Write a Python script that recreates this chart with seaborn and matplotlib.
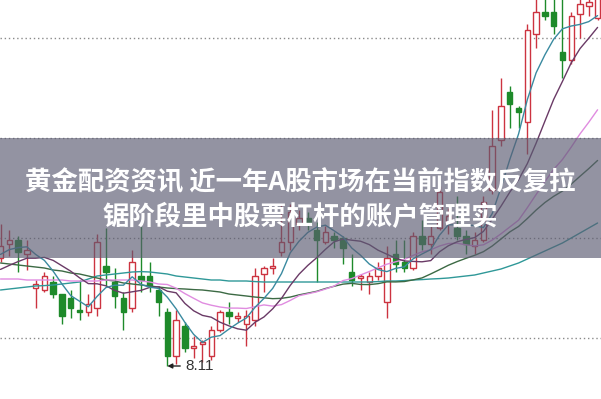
import numpy as np
import pandas as pd
import matplotlib
matplotlib.use("Agg")
import matplotlib.pyplot as plt
import seaborn as sns
from matplotlib.patches import Rectangle

# ---------------- data ----------------
opens = [8.65, 8.72, 8.74, 8.67, 8.50, 8.49, 8.53, 8.47, 8.45, 8.39,
         8.38, 8.40, 8.61, 8.53, 8.45, 8.40, 8.56, 8.56, 8.49, 8.38,
         8.16, 8.31, 8.20, 8.22, 8.16, 8.29, 8.38, 8.35, 8.32, 8.34,
         8.57, 8.60, 8.68, 8.73, 8.82, 8.85, 8.79, 8.73, 8.76, 8.75,
         8.58, 8.55, 8.53, 8.56, 8.43, 8.67, 8.63, 8.60, 8.76, 8.72,
         8.80, 8.83, 8.80, 8.76, 8.71, 8.74, 8.99, 9.24, 9.48, 9.40,
         9.33, 9.77, 9.88, 9.88, 9.68, 9.64, 9.87, 9.91, 9.85]
highs = [8.82, 8.79, 8.76, 8.74, 8.54, 8.58, 8.56, 8.47, 8.49, 8.54,
         8.47, 8.77, 8.80, 8.60, 8.48, 8.69, 8.81, 8.63, 8.51, 8.40,
         8.39, 8.33, 8.26, 8.24, 8.31, 8.39, 8.43, 8.38, 8.39, 8.60,
         8.61, 8.65, 8.92, 8.92, 8.89, 8.88, 8.83, 8.81, 8.78, 8.76,
         8.67, 8.57, 8.58, 8.63, 8.71, 8.74, 8.74, 8.78, 8.84, 8.81,
         9.01, 8.90, 8.96, 8.79, 8.78, 8.96, 9.39, 9.55, 9.51, 9.41,
         9.82, 9.97, 9.97, 9.97, 9.99, 9.88, 9.97, 9.95, 9.99]
lows = [8.63, 8.66, 8.58, 8.59, 8.40, 8.48, 8.45, 8.32, 8.35, 8.34,
        8.36, 8.36, 8.51, 8.40, 8.29, 8.38, 8.48, 8.48, 8.36, 8.11,
        8.12, 8.18, 8.15, 8.13, 8.14, 8.28, 8.32, 8.33, 8.21, 8.31,
        8.48, 8.57, 8.66, 8.69, 8.79, 8.79, 8.53, 8.72, 8.70, 8.62,
        8.51, 8.49, 8.47, 8.54, 8.35, 8.58, 8.58, 8.59, 8.69, 8.67,
        8.79, 8.77, 8.74, 8.67, 8.67, 8.73, 8.97, 9.21, 9.30, 9.30,
        9.17, 9.70, 9.84, 9.77, 9.55, 9.62, 9.75, 9.86, 9.84]
closes = [8.71, 8.74, 8.68, 8.69, 8.52, 8.56, 8.47, 8.36, 8.40, 8.38,
          8.42, 8.73, 8.58, 8.46, 8.38, 8.63, 8.54, 8.51, 8.43, 8.16,
          8.34, 8.20, 8.21, 8.23, 8.29, 8.38, 8.36, 8.36, 8.36, 8.56,
          8.60, 8.61, 8.73, 8.88, 8.85, 8.82, 8.74, 8.78, 8.74, 8.70,
          8.54, 8.56, 8.56, 8.60, 8.65, 8.62, 8.60, 8.76, 8.72, 8.76,
          8.98, 8.86, 8.76, 8.72, 8.74, 8.93, 9.21, 9.41, 9.42, 9.38,
          9.79, 9.88, 9.86, 9.81, 9.64, 9.86, 9.92, 9.93, 9.96]
# closes before the visible window (for the short averages)
prior_closes = [8.54, 8.49, 8.52, 8.52, 8.52, 8.62, 8.63, 8.67, 8.71]
# early parts of the long averages (visible, before a full window exists)
ma20_early = [8.545, 8.545, 8.545, 8.54, 8.54, 8.54, 8.54, 8.54, 8.535, 8.535,
              8.535, 8.535, 8.54, 8.54, 8.54, 8.54, 8.535, 8.53, 8.52]
ma30_early = [8.625, 8.62, 8.615, 8.61, 8.605, 8.60, 8.59, 8.585, 8.575, 8.57,
              8.56, 8.55, 8.54, 8.535, 8.525, 8.52, 8.515, 8.51, 8.505, 8.50,
              8.497, 8.495, 8.492, 8.49, 8.485, 8.48, 8.47, 8.465, 8.46]
ma60 = [8.49, 8.495, 8.50, 8.505, 8.51, 8.512, 8.515, 8.52, 8.525, 8.53,
        8.545, 8.56, 8.565, 8.57, 8.575, 8.58, 8.582, 8.58, 8.575, 8.57,
        8.56, 8.555, 8.55, 8.545, 8.54, 8.54, 8.535, 8.535, 8.535, 8.532,
        8.53, 8.53, 8.53, 8.53, 8.53, 8.53, 8.53, 8.53, 8.53, 8.53,
        8.53, 8.53, 8.53, 8.532, 8.535, 8.535, 8.537, 8.54, 8.542, 8.545,
        8.547, 8.55, 8.555, 8.56, 8.565, 8.575, 8.585, 8.595, 8.61, 8.625,
        8.645, 8.665, 8.685, 8.705, 8.725, 8.75, 8.775, 8.80, 8.825]
grid_levels = [8.25, 8.75, 9.25, 9.75]
low_label = "8.11"
low_index = 19
title_lines = ["黄金配资资讯 近一年A股市场在当前指数反复拉",
               "锯阶段里中股票杠杆的账户管理实"]

# ---------------- derived series ----------------
n = len(closes)
idx = np.arange(n)
allc = pd.Series(prior_closes + closes)
ma5 = allc.rolling(5).mean().to_numpy()[len(prior_closes):]
ma10 = allc.rolling(10).mean().to_numpy()[len(prior_closes):]
cs = pd.Series(closes)
ma20 = np.concatenate([ma20_early, cs.rolling(20).mean().to_numpy()[len(ma20_early):]])
ma30 = np.concatenate([ma30_early, cs.rolling(30).mean().to_numpy()[len(ma30_early):]])

df = pd.DataFrame({"i": idx, "open": opens, "high": highs, "low": lows, "close": closes})
ma_df = pd.concat([
    pd.DataFrame({"i": idx, "v": ma60, "k": "MA60"}),
    pd.DataFrame({"i": idx, "v": ma30, "k": "MA30"}),
    pd.DataFrame({"i": idx, "v": ma20, "k": "MA20"}),
    pd.DataFrame({"i": idx, "v": ma10, "k": "MA10"}),
    pd.DataFrame({"i": idx, "v": ma5, "k": "MA5"}),
])

# ---------------- drawing ----------------
sns.set_theme(style="white")
plt.rcParams['font.family'] = ['Noto Sans CJK SC', 'DejaVu Sans']

fig = plt.figure(figsize=(6.01, 3.99), dpi=100)
ax = fig.add_axes([0, 0, 1, 1])
ax.set_xlim(-0.057, 68.39)
ax.set_ylim(7.945, 9.94)
ax.set_axis_off()

for g in grid_levels:
    ax.axhline(g, color="#8a8a8a", lw=1.0, ls=(0, (1, 2)), zorder=1)

RED = "#cc3340"
GREEN = "#1e8a2a"
w = 0.62
for _, r in df.iterrows():
    col = RED if r["close"] >= r["open"] else GREEN
    top = max(r["open"], r["close"])
    bot = min(r["open"], r["close"])
    ax.vlines(r["i"], r["low"], bot, color=col, lw=1.0, zorder=3)
    ax.vlines(r["i"], top, r["high"], color=col, lw=1.0, zorder=3)
    h = max(top - bot, 0.004)
    face = "white" if r["close"] >= r["open"] else col
    ax.add_patch(Rectangle((r["i"] - w / 2, bot), w, h, facecolor=face,
                           edgecolor=col, lw=1.0, zorder=4))

palette = {"MA5": "#3a8aa0", "MA10": "#6a3a66", "MA20": "#e08ce0",
           "MA30": "#3c6a44", "MA60": "#2f9898"}
sns.lineplot(data=ma_df, x="i", y="v", hue="k", palette=palette, lw=1.0,
             legend=False, ax=ax, zorder=5)

ax.annotate(low_label, xy=(low_index, lows[low_index]),
            xytext=(low_index + 2.0, lows[low_index]),
            fontsize=11, color="#333333", va="center", ha="left",
            family=["Liberation Sans", "DejaVu Sans"],
            arrowprops=dict(arrowstyle="-|>", color="#222222", lw=1.0,
                            mutation_scale=7, shrinkA=1, shrinkB=0),
            zorder=6)

# banner overlay
fig.patches.append(Rectangle((0, (399 - 258) / 399), 1, 120 / 399,
                             transform=fig.transFigure, facecolor="#5c5c72",
                             alpha=0.66, edgecolor="none", zorder=10))
fig.text(0.5, (399 - 183) / 399, title_lines[0], ha="center", va="center",
         color="white", fontsize=19, fontweight="bold", zorder=11)
fig.text(0.5, (399 - 217) / 399, title_lines[1], ha="center", va="center",
         color="white", fontsize=19, fontweight="bold", zorder=11)

fig.savefig("out.png", dpi=100)
